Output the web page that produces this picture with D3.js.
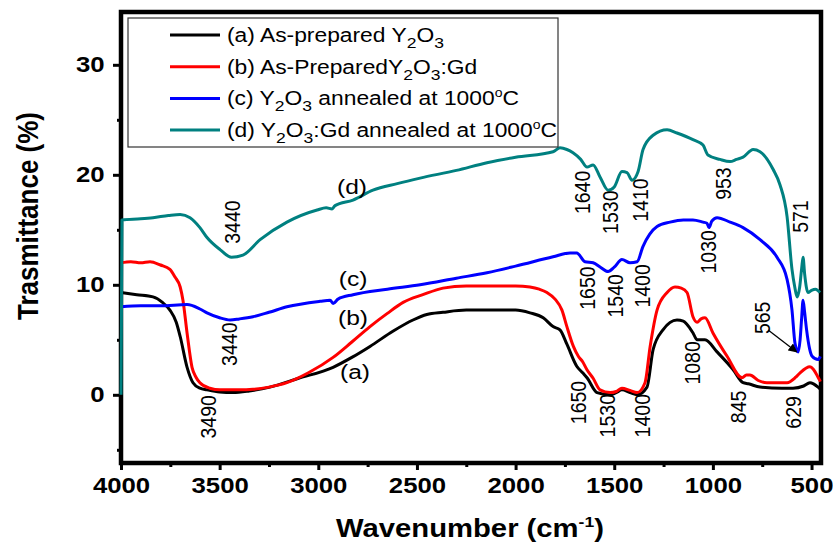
<!DOCTYPE html>
<html>
<head>
<meta charset="utf-8">
<script src="https://cdn.jsdelivr.net/npm/d3@7/dist/d3.min.js"></script>
<style>
  html, body { margin: 0; padding: 0; background: #fff; }
  svg { display: block; }
  text { font-family: Arial, "Liberation Sans", sans-serif; }
</style>
</head>
<body>
<svg id="chart" width="833" height="543"></svg>
<script>
// ---------- DATA ----------
// [wavenumber (cm-1), transmittance (%)]
const seriesA = [[4000,9.3],[3920,9.1],[3838,8.9],[3790,8.4],[3752,7.7],[3720,6.6],[3700,5.3],[3665,2.5],[3635,1.1],[3600,0.6],[3564,0.45],[3500,0.25],[3432,0.2],[3350,0.35],[3245,0.7],[3100,1.5],[2925,2.5],[2830,3.4],[2738,4.4],[2620,5.8],[2520,6.8],[2450,7.3],[2368,7.5],[2250,7.7],[2145,7.7],[2000,7.7],[1927,7.45],[1860,7.0],[1810,6.2],[1775,5.9],[1740,4.6],[1690,2.6],[1660,2.0],[1638,1.55],[1587,0.2],[1521,0.0],[1490,0.2],[1461,0.45],[1420,0.2],[1384,0.0],[1334,0.7],[1303,4.1],[1253,5.9],[1182,6.8],[1150,6.7],[1131,6.4],[1100,5.6],[1080,5.0],[1040,5.0],[979,3.9],[898,2.3],[847,1.1],[820,1.0],[761,0.7],[650,0.6],[594,0.6],[540,0.8],[508,1.1],[490,1.0],[467,0.7],[455,0.5]];

const seriesB = [[4000,12.0],[3950,12.1],[3900,12.0],[3853,12.1],[3800,11.8],[3752,11.4],[3726,10.7],[3700,9.8],[3686,8.6],[3665,5.6],[3640,2.5],[3620,1.6],[3600,1.1],[3550,0.6],[3498,0.45],[3400,0.45],[3331,0.5],[3250,0.7],[3159,1.1],[3050,2.0],[2925,3.4],[2830,4.8],[2738,6.2],[2650,7.4],[2570,8.4],[2470,9.1],[2368,9.7],[2250,9.9],[2145,9.9],[2000,9.9],[1927,9.8],[1880,9.6],[1841,9.3],[1800,8.7],[1765,7.7],[1740,6.2],[1707,4.4],[1682,3.5],[1660,3.0],[1639,2.3],[1607,1.5],[1572,0.45],[1521,0.2],[1490,0.3],[1461,0.6],[1420,0.4],[1384,0.2],[1344,1.1],[1318,4.4],[1283,7.7],[1232,9.3],[1192,9.8],[1160,9.7],[1131,9.3],[1101,7.1],[1080,6.6],[1060,6.9],[1040,7.0],[999,5.6],[928,3.5],[852,1.55],[830,1.8],[812,1.8],[770,1.3],[726,1.1],[624,1.1],[580,1.6],[558,2.0],[508,2.55],[490,2.3],[467,1.6],[455,1.2]];

const seriesC = [[4000,8.0],[3900,8.1],[3800,8.1],[3665,8.2],[3600,7.8],[3564,7.45],[3500,7.0],[3447,6.8],[3400,6.9],[3331,7.1],[3250,7.5],[3159,8.0],[2991,8.5],[2940,8.6],[2925,8.3],[2900,8.7],[2824,9.1],[2650,9.6],[2484,10.0],[2300,10.6],[2145,11.1],[2000,11.7],[1810,12.55],[1724,12.9],[1690,12.9],[1648,12.1],[1607,12.0],[1570,11.6],[1531,11.2],[1500,11.6],[1461,12.3],[1420,12.0],[1384,12.1],[1354,13.5],[1320,14.6],[1283,15.3],[1217,15.7],[1150,15.9],[1101,15.9],[1050,15.7],[1030,15.6],[1020,15.2],[1005,15.8],[979,16.1],[913,15.7],[847,15.2],[761,14.1],[675,12.5],[624,10.5],[599,7.7],[584,4.7],[568,3.9],[558,5.0],[550,7.0],[543,8.6],[535,7.5],[525,5.9],[510,4.2],[497,3.5],[467,3.2],[455,3.5]];

const seriesD = [[4000,0],[3995,15.9],[3900,16.0],[3838,16.1],[3760,16.3],[3700,16.4],[3650,16.1],[3600,15.2],[3564,14.3],[3498,13.2],[3440,12.5],[3382,12.7],[3295,14.1],[3159,15.7],[3006,16.8],[2960,17.0],[2930,16.9],[2915,17.2],[2824,17.7],[2723,18.6],[2600,19.2],[2484,19.7],[2300,20.4],[2145,21.1],[2000,21.6],[1810,22.1],[1775,22.45],[1740,22.3],[1709,22.0],[1670,21.4],[1638,20.7],[1607,20.9],[1572,19.8],[1531,18.6],[1500,18.9],[1461,20.3],[1435,20.2],[1410,19.5],[1379,20.3],[1354,22.3],[1303,23.6],[1232,24.1],[1182,23.8],[1101,23.2],[1050,22.7],[1025,21.8],[964,21.4],[913,21.2],[880,21.4],[847,21.6],[796,22.3],[761,22.1],[695,20.5],[660,19.1],[624,16.2],[599,11.4],[585,9.8],[573,8.9],[560,9.8],[550,11.5],[543,12.5],[535,11.0],[518,9.3],[500,9.5],[480,9.6],[457,9.3]];

const seriesNames = ["a", "b", "c", "d"];
const seriesColors = ["#000000", "#ff0000", "#0000ff", "#008080"];

// legend labels as segments: [text, kind]  kind: "" | "sub" | "sup"
const legendLabels = [
  [["(a) As-prepared Y",""],["2","sub"],["O",""],["3","sub"]],
  [["(b) As-PreparedY",""],["2","sub"],["O",""],["3","sub"],[":Gd",""]],
  [["(c) Y",""],["2","sub"],["O",""],["3","sub"],[" annealed at 1000",""],["o","sup"],["C",""]],
  [["(d) Y",""],["2","sub"],["O",""],["3","sub"],[":Gd annealed at 1000",""],["o","sup"],["C",""]]
];

const xMajorTicks = [4000,3500,3000,2500,2000,1500,1000,500];
const xMinorTicks = [3750,3250,2750,2250,1750,1250,750];
const yMajorTicks = [0,10,20,30];
const yMinorTicks = [-5,5,15,25];

// peak annotations: [label, wavenumber position, transmittance position]
const peakLabels = [
  ["3440",3437,15.7],["1640",1663,18.4],["1530",1521,16.6],["1410",1369,17.7],["953",949,19.2],["571",558,16.2],
  ["3440",3453,4.6],["1650",1638,9.7],["1540",1496,9.0],["1400",1359,9.9],["1030",1024,13.0],["565",751,7.0],
  ["3490",3559,-2.0],["1650",1683,-0.7],["1530",1536,-1.9],["1400",1359,-1.9],["1080",1106,2.9],["845",873,-1.1],["629",594,-1.6]
];
const curveLabels = [["(d)",2829,18.9],["(c)",2824,10.6],["(b)",2824,7.0],["(a)",2814,2.1]];
const arrow565 = [[720,5.9],[575,3.9]];

// ---------- CHART ----------
const svg = d3.select("#chart");
const SX = 1.17; // horizontal stretch of the original's lettering

const x = d3.scaleLinear().domain([4000, 452]).range([121, 821]);
const y = d3.scaleLinear().domain([-6.2, 34.8]).range([463, 12]);

// axes
const gx = svg.append("g").attr("transform", "translate(0,463)")
  .call(d3.axisBottom(x).tickValues(xMajorTicks).tickSize(7).tickPadding(7).tickFormat(d3.format("d")));
const gxm = svg.append("g").attr("transform", "translate(0,463)")
  .call(d3.axisBottom(x).tickValues(xMinorTicks).tickSize(4).tickFormat(""));
const gy = svg.append("g").attr("transform", "translate(121,0)")
  .call(d3.axisLeft(y).tickValues(yMajorTicks).tickSize(8).tickPadding(6).tickFormat(d3.format("d")));
const gym = svg.append("g").attr("transform", "translate(121,0)")
  .call(d3.axisLeft(y).tickValues(yMinorTicks).tickSize(4).tickFormat(""));

[gx, gxm, gy, gym].forEach(g => {
  g.select(".domain").remove();
  g.selectAll(".tick line").attr("stroke", "#000").attr("stroke-width", 3);
  g.selectAll(".tick text").attr("fill", "#000").attr("font-size", 22).attr("font-weight", "bold")
    .attr("font-family", "Arial, 'Liberation Sans', sans-serif")
    .attr("transform", `scale(${SX},1)`);
});

// frame
svg.append("rect")
  .attr("x", x.range()[0]).attr("y", y.range()[1])
  .attr("width", x.range()[1] - x.range()[0]).attr("height", y.range()[0] - y.range()[1])
  .attr("fill", "none").attr("stroke", "#000").attr("stroke-width", 4.5);

// curves
const line = d3.line().x(d => x(d[0])).y(d => y(d[1])).curve(d3.curveMonotoneX);
const allSeries = [seriesA, seriesB, seriesC, seriesD];
svg.append("g").selectAll("path").data(allSeries).join("path")
  .attr("d", line)
  .attr("fill", "none")
  .attr("stroke", (d, i) => seriesColors[i])
  .attr("stroke-width", 3)
  .attr("stroke-linejoin", "round");

// legend
const lg = svg.append("g");
lg.append("rect").attr("x", 128).attr("y", 18).attr("width", 430).attr("height", 129)
  .attr("fill", "#fff").attr("stroke", "#333").attr("stroke-width", 1.2);
legendLabels.forEach((segs, i) => {
  const ry = 35 + i * 31.7;
  lg.append("line").attr("x1", 170).attr("x2", 220).attr("y1", ry).attr("y2", ry)
    .attr("stroke", seriesColors[i]).attr("stroke-width", 3);
  const t = lg.append("text").attr("transform", `translate(227,${ry + 7}) scale(${SX},1)`)
    .attr("font-size", 19.5).attr("fill", "#000");
  let shift = 0;
  segs.forEach(([txt, kind]) => {
    const target = kind === "sub" ? 6 : kind === "sup" ? -8 : 0;
    t.append("tspan").attr("dy", target - shift)
      .attr("font-size", kind === "sub" ? 15 : kind === "sup" ? 12 : 19.5)
      .text(txt);
    shift = target;
  });
});

// peak annotations (rotated)
svg.append("g").selectAll("text").data(peakLabels).join("text")
  .attr("transform", d => `translate(${x(d[1])},${y(d[2])}) scale(${SX},1) rotate(-90)`)
  .attr("text-anchor", "middle").attr("dy", "0.36em")
  .attr("font-size", 19.5).attr("fill", "#000")
  .text(d => d[0]);

// curve labels
svg.append("g").selectAll("text").data(curveLabels).join("text")
  .attr("transform", d => `translate(${x(d[1])},${y(d[2])}) scale(${SX},1)`)
  .attr("text-anchor", "middle").attr("dy", "0.36em")
  .attr("font-size", 21).attr("fill", "#000")
  .text(d => d[0]);

// arrow for 565
svg.append("defs").append("marker").attr("id", "ah")
  .attr("viewBox", "0 0 10 10").attr("refX", 9).attr("refY", 5)
  .attr("markerWidth", 9).attr("markerHeight", 9).attr("orient", "auto")
  .attr("markerUnits", "userSpaceOnUse")
  .append("path").attr("d", "M0,0 L10,5 L0,10 z").attr("fill", "#000");
svg.append("line")
  .attr("x1", x(arrow565[0][0])).attr("y1", y(arrow565[0][1]))
  .attr("x2", x(arrow565[1][0])).attr("y2", y(arrow565[1][1]))
  .attr("stroke", "#000").attr("stroke-width", 1.3).attr("marker-end", "url(#ah)");

// axis titles
const xt = svg.append("text")
  .attr("transform", `translate(470,537) scale(${SX},1)`)
  .attr("text-anchor", "middle").attr("font-size", 25).attr("font-weight", "bold").attr("fill", "#000");
xt.append("tspan").text("Wavenumber (cm");
xt.append("tspan").attr("dy", -10).attr("font-size", 15).text("-1");
xt.append("tspan").attr("dy", 10).text(")");

svg.append("text")
  .attr("transform", `translate(38,216) scale(${SX},1) rotate(-90)`)
  .attr("text-anchor", "middle").attr("font-size", 26).attr("font-weight", "bold").attr("fill", "#000")
  .text("Trasmittance (%)");
</script>
</body>
</html>
